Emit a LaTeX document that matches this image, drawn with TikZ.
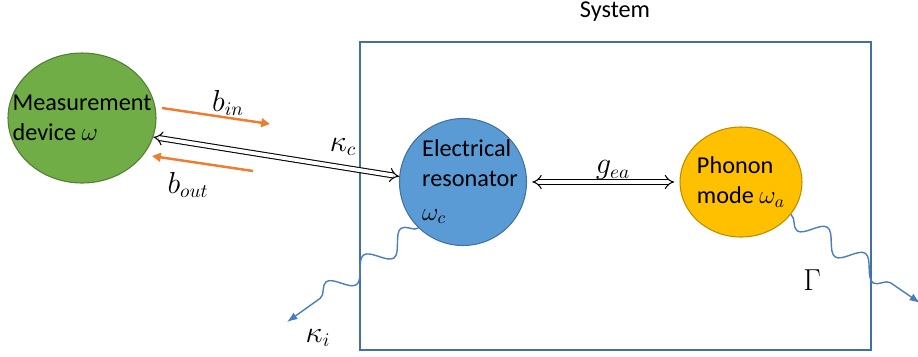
\documentclass[tikz,border=0pt]{standalone}
\usepackage{fontspec}
\setmainfont{Carlito}
\usetikzlibrary{arrows.meta,shapes.geometric,decorations.pathmorphing}
\definecolor{meagreen}{HTML}{70AD47}
\definecolor{meaedge}{HTML}{507E32}
\definecolor{resblue}{HTML}{5B9BD5}
\definecolor{resedge}{HTML}{41719C}
\definecolor{phonyellow}{HTML}{FFC000}
\definecolor{phonedge}{HTML}{BC8C00}
\definecolor{flowline}{HTML}{ED7D31}
\definecolor{waveblue}{HTML}{4A7EBB}
\definecolor{boxline}{HTML}{41719C}

\begin{document}
\begin{tikzpicture}[every node/.style={font=\fontsize{13.8}{17}\selectfont},body/.style={ellipse,line width=.6pt,align=left,inner ysep=0pt},lab/.style={font=\fontsize{16}{18}\selectfont},couple/.style={double,double distance=2.2pt,line width=.6pt,{Implies}-{Implies}},flow/.style={flowline,line width=1.4pt,-{Triangle[length=5pt,width=5pt]}},wave/.style={waveblue,line width=.8pt,decorate,decoration={snake,amplitude=-.2cm,segment length=.92cm,post length=.45cm},-{Latex[length=6pt]}}]
\useasboundingbox (0,0) rectangle (18.36,-7.12);
\draw[boxline,line width=.8pt] (7.2,-.84) rectangle (17.42,-7.0);\node (sys) at (12.3,-.24){System};
\node[body,draw=meaedge,fill=meagreen,inner xsep=-11pt,minimum width=2.96cm,minimum height=2.6cm] (meas) at (1.64,-2.36){Measurement\\device $\omega$};
\node[body,circle,draw=resedge,fill=resblue,inner sep=-5pt,minimum size=2.54cm] (elec) at (9.26,-3.64){\hspace*{8pt}Electrical\\\hspace*{8pt}resonator\\[2pt]\hspace*{8pt}$\omega_c$};
\node[body,draw=phonedge,fill=phonyellow,inner xsep=-6pt,minimum width=2.44cm,minimum height=2.2cm] (phon) at (14.82,-3.64){Phonon\\mode $\omega_a$};
\coordinate (binS) at (3.24,-2.16);\coordinate (binE) at (5.4,-2.48);\coordinate (boutS) at (5.06,-3.42);\coordinate (boutE) at (3.04,-3.12);
\draw[flow] (binS)--(binE);\draw[flow] (boutS)--(boutE);\node[lab] (bin) at (4.56,-2.06){$b_{in}$};\node[lab] (bout) at (3.76,-3.7){$b_{out}$};
\draw[couple] (meas.-15)--(elec.175);\node[lab] (kc) at (6.86,-2.94){$\kappa_c$};
\draw[couple,shorten <=3pt,shorten >=3pt] (elec.east)--(phon.west);\node[lab] (gea) at (12.26,-3.4){$g_{ea}$};
\coordinate (kiE) at (5.74,-6.44);\draw[wave] (elec.-134)--(kiE);\node[lab] (ki) at (6.36,-6.76){$\kappa_i$};
\coordinate (gE) at (18.4,-6.06);\draw[wave] (phon.-33)--(gE);\node[lab] (gam) at (16.24,-5.6){$\Gamma$};
\end{tikzpicture}
\end{document}
